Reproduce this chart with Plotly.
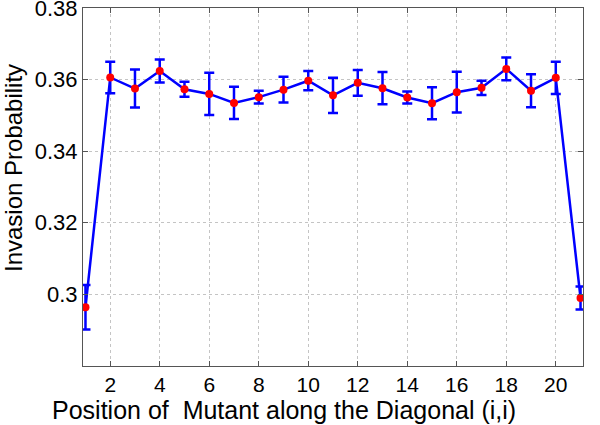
import plotly.graph_objects as go

positions = list(range(1, 22))
invasion_prob = [0.2964, 0.3606, 0.3575, 0.3624, 0.3573, 0.3560, 0.3535, 0.3551, 0.3572, 0.3597,
                 0.3556, 0.3591, 0.3576, 0.3550, 0.3534, 0.3565, 0.3577, 0.3630, 0.3569, 0.3605, 0.2990]
error = [0.0062, 0.0044, 0.0053, 0.0032, 0.0021, 0.0059, 0.0045, 0.0018, 0.0036, 0.0027,
         0.0049, 0.0036, 0.0045, 0.0017, 0.0045, 0.0057, 0.0020, 0.0032, 0.0046, 0.0045, 0.0032]
x_ticks = [2, 4, 6, 8, 10, 12, 14, 16, 18, 20]
y_ticks = [0.28, 0.30, 0.32, 0.34, 0.36, 0.38]
y_ticklabels = ["", "0.3", "0.32", "0.34", "0.36", "0.38"]
x_title = "Position of  Mutant along the Diagonal (i,i)"
y_title = "Invasion Probability"

fig = go.Figure()
fig.add_trace(go.Scatter(
    x=positions, y=invasion_prob, mode="lines+markers",
    line=dict(color="#0000ff", width=2.5),
    marker=dict(color="#ff0000", size=8, line=dict(width=0)),
    error_y=dict(type="data", array=error, visible=True, color="#0000ff", thickness=2.5, width=5),
    showlegend=False,
))

font_family = "Liberation Sans, Arial, sans-serif"
fig.update_layout(
    width=600, height=425,
    margin=dict(l=83, r=17, t=8, b=59),
    paper_bgcolor="white", plot_bgcolor="white",
    font=dict(family=font_family, color="black"),
)
fig.update_xaxes(
    range=[0.9, 21.1], tickvals=x_ticks, ticks="inside", ticklen=5, tickcolor="#555",
    showline=True, linecolor="#555", linewidth=1, mirror="ticks",
    showgrid=True, gridcolor="#c4c4c4", griddash="dot", gridwidth=1, zeroline=False,
    tickfont=dict(size=21, family=font_family), automargin=False, ticklabeloverflow="allow",
)
fig.update_yaxes(
    range=[0.27999, 0.38001], tickvals=y_ticks, ticktext=y_ticklabels, ticks="inside", ticklen=5, tickcolor="#555",
    showline=True, linecolor="#555", linewidth=1, mirror="ticks",
    showgrid=True, gridcolor="#c4c4c4", griddash="dot", gridwidth=1, zeroline=False,
    tickfont=dict(size=22, family=font_family), automargin=False, ticklabeloverflow="allow",
)
fig.add_annotation(text=x_title, xref="paper", yref="paper", x=(284 - 83) / 500, y=-(410 - 366) / 358,
                   xanchor="center", yanchor="middle", showarrow=False,
                   font=dict(size=25, family=font_family, color="black"))
fig.add_annotation(text=y_title, xref="paper", yref="paper", x=-(83 - 13) / 500, y=(366 - 168) / 358,
                   xanchor="center", yanchor="middle", showarrow=False, textangle=-90,
                   font=dict(size=24, family=font_family, color="black"))
fig.write_html("out.html", config={"displayModeBar": False},
               post_script="document.body.style.margin='0';document.body.style.overflow='hidden';")
